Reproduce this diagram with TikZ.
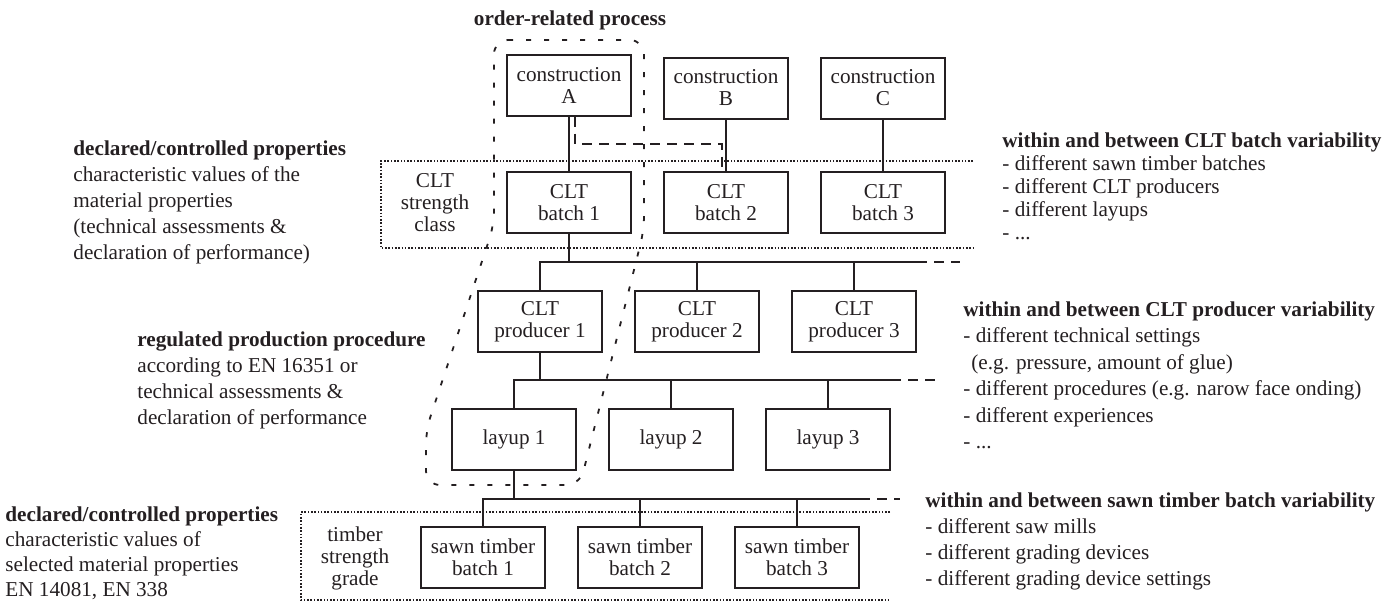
\documentclass[tikz,border=0pt]{standalone}
\usepackage{fontspec}
\setmainfont{Liberation Serif}
\usetikzlibrary{positioning}
\definecolor{tinta}{rgb}{0.14,0.12,0.13}
\tikzset{
  caja/.style={
    draw=tinta,
    line width=1pt,
    text=tinta,
    align=center,
    minimum width=62pt,
    minimum height=30.5pt,
    inner sep=0pt,
    font=\fontsize{10.6}{11}\selectfont
  },
  nota/.style={
    text=tinta,
    align=left,
    anchor=north west,
    inner sep=0pt,
    font=\fontsize{10.6}{13}\selectfont
  },
  rotulo/.style={
    text=tinta,
    align=center,
    inner sep=0pt,
    font=\fontsize{10.6}{11}\selectfont
  },
  enlace/.style={draw=tinta, line width=1pt},
  guion/.style={draw=tinta, line width=1pt, dash pattern=on 5pt off 3.5pt},
  punteado/.style={draw=tinta, line width=0.8pt, dash pattern=on 0.8pt off 0.85pt},
  pedido/.style={draw=tinta, line width=0.9pt, dash pattern=on 2.5pt off 6.5pt, rounded corners=7pt}
}

\begin{document}
\begin{tikzpicture}[x=0.5pt, y=-0.5pt, node distance=15.5pt]
\useasboundingbox (0,0) rectangle (1386,601);

% strength class and strength grade bands
\draw[punteado] (973,161) -- (381,161) -- (381,248) -- (973,248);
\draw[punteado] (890,512) -- (301,512) -- (301,600) -- (890,600);
\node[rotulo] (clase) at (435,203) {CLT\\strength\\class};
\node[rotulo] (grado) at (355,558) {timber\\strength\\grade};

% order-related process
\draw[pedido] (494,40) -- (644,40) -- (644,230) -- (580,485) -- (426,485) -- (426,430) -- (494,225) -- cycle;
\node[text=tinta, inner sep=0pt, font=\bfseries\fontsize{10.6}{13}\selectfont] (orden) at (570,20) {order-related process};

% boxes
\node[caja] (conA) at (569,85) {construction\\A};
\node[caja, right=of conA, yshift=-1.5pt] (conB) {construction\\B};
\node[caja, right=of conB] (conC) {construction\\C};

\node[caja] (bat1) at (569,202.5) {CLT\\batch 1};
\node[caja, right=of bat1] (bat2) {CLT\\batch 2};
\node[caja, right=of bat2] (bat3) {CLT\\batch 3};

\node[caja] (pro1) at (540,321.5) {CLT\\producer 1};
\node[caja, right=of pro1] (pro2) {CLT\\producer 2};
\node[caja, right=of pro2] (pro3) {CLT\\producer 3};

\node[caja] (lay1) at (514,439.5) {layup 1};
\node[caja, right=of lay1] (lay2) {layup 2};
\node[caja, right=of lay2] (lay3) {layup 3};

\node[caja] (saw1) at (483,557.5) {sawn timber\\batch 1};
\node[caja, right=of saw1] (saw2) {sawn timber\\batch 2};
\node[caja, right=of saw2] (saw3) {sawn timber\\batch 3};

% links
\draw[enlace] (conA) -- (bat1);
\draw[enlace] (conB) -- (bat2);
\draw[enlace] (conC) -- (bat3);
\draw[guion] ([xshift=3pt]conA.south) -- ++(0,27) -| ([xshift=-2pt]bat2.north);

\coordinate (bus1) at (0,262);
\coordinate (bus2) at (0,380);
\coordinate (bus3) at (0,499);

\draw[enlace] (bat1.south) -- (bat1.south |- bus1);
\draw[enlace] (pro1.north) |- (pro3.east |- bus1);
\draw[guion] (pro3.east |- bus1) -- ++(43,0);
\foreach \n in {pro2,pro3} \draw[enlace] (\n.north) -- (\n.north |- bus1);

\draw[enlace] (pro1.south) -- (pro1.south |- bus2);
\draw[enlace] (lay1.north) |- (lay3.east |- bus2);
\draw[guion] (lay3.east |- bus2) -- ++(44,0);
\foreach \n in {lay2,lay3} \draw[enlace] (\n.north) -- (\n.north |- bus2);

\draw[enlace] (lay1.south) -- (lay1.south |- bus3);
\draw[enlace] (saw1.north) |- (saw3.east |- bus3);
\draw[guion] (saw3.east |- bus3) -- ++(40,0);
\foreach \n in {saw2,saw3} \draw[enlace] (\n.north) -- (\n.north |- bus3);

% side notes
\node[nota] (izq1) at (73,140) {\textbf{declared/controlled properties}\\characteristic values of the\\material properties\\(technical assessments \&\\declaration of performance)};
\node[nota] (izq2) at (137,331) {\textbf{regulated production procedure}\\according to EN 16351 or\\technical assessments \&\\declaration of performance};
\node[nota, font=\fontsize{10.6}{12.5}\selectfont] (izq3) at (5,506) {\textbf{declared/controlled properties}\\characteristic values of\\selected material properties\\EN 14081, EN 338};
\node[nota, font=\fontsize{10.6}{11.5}\selectfont] (der1) at (1002,132) {\textbf{within and between CLT batch variability}\\- different sawn timber batches\\- different CLT producers\\- different layups\\- ...};
\node[nota, font=\fontsize{10.6}{13.25}\selectfont] (der2) at (963,301) {\textbf{within and between CLT producer variability}\\- different technical settings\\\hspace*{4pt}(e.g. pressure, amount of glue)\\- different procedures (e.g. narow face onding)\\- different experiences\\- ...};
\node[nota] (der3) at (925,492) {\textbf{within and between sawn timber batch variability}\\- different saw mills\\- different grading devices\\- different grading device settings};
\end{tikzpicture}
\end{document}
